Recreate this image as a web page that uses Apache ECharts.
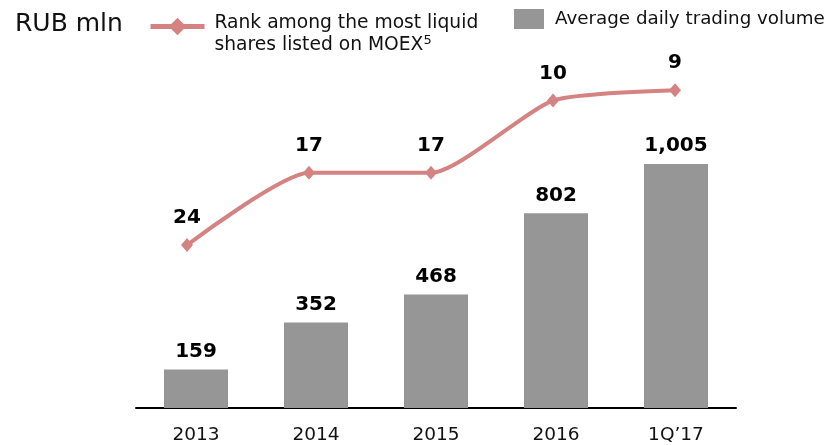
<!DOCTYPE html>
<html>
<head>
<meta charset="utf-8">
<script src="https://cdn.jsdelivr.net/npm/echarts@6/dist/echarts.min.js"></script>
<style>
  html, body { margin: 0; padding: 0; background: #fff; }
  #trading-chart { width: 831px; height: 445px; }
</style>
</head>
<body>
<div id="trading-chart"></div>
<script>
  // categories and values
  var periods = ['2013', '2014', '2015', '2016', '1Q\u201917'];
  var tradingVolume = [159, 352, 468, 802, 1005];
  var liquidityRank = [24, 17, 17, 10, 9];

  var font = 'DejaVu Sans, Verdana, sans-serif';
  var rankColor = '#d48282';

  var chart = echarts.init(document.getElementById('trading-chart'));
  var option = {
    animation: false,
    textStyle: { fontFamily: font },
    title: {
      text: 'RUB mln',
      left: 10,
      top: 7,
      textStyle: { fontSize: 25, fontWeight: 'normal', color: '#111', fontFamily: font }
    },
    legend: [
      {
        data: ['rank'],
        left: 143,
        top: -8,
        itemWidth: 54,
        itemHeight: 22,
        itemGap: 10,
        lineStyle: { width: 5 },
        formatter: function () {
          return 'Rank among the most liquid\nshares listed on MOEX{sup|5}';
        },
        textStyle: {
          fontSize: 18.7,
          color: '#111',
          fontFamily: font,
          lineHeight: 22,
          padding: [15, 0, 0, 5],
          rich: {
            sup: { fontSize: 13, verticalAlign: 'top', lineHeight: 22, padding: [0, 0, 8, 0] }
          }
        }
      },
      {
        data: ['volume'],
        left: 509,
        top: 4,
        itemWidth: 30,
        itemHeight: 20,
        icon: 'rect',
        formatter: function () { return 'Average daily trading volume'; },
        textStyle: { fontSize: 18.3, color: '#111', fontFamily: font, padding: [2, 0, 0, 6] }
      }
    ],
    grid: [
      { left: 136, right: 95, top: 141, bottom: 37 },
      { left: 187, right: 156, top: 49, bottom: 138 }
    ],
    xAxis: [
      {
        type: 'category',
        gridIndex: 0,
        data: periods,
        axisLine: { lineStyle: { color: '#000', width: 2 } },
        axisTick: { show: false },
        axisLabel: { fontSize: 18.5, color: '#111', margin: 18, fontFamily: font }
      },
      {
        type: 'category',
        gridIndex: 1,
        data: periods,
        boundaryGap: false,
        show: false
      }
    ],
    yAxis: [
      {
        type: 'value',
        gridIndex: 0,
        min: 0,
        max: 1100,
        show: false,
        splitLine: { show: false }
      },
      {
        type: 'value',
        gridIndex: 1,
        min: 5,
        max: 30,
        inverse: true,
        show: false,
        splitLine: { show: false }
      }
    ],
    series: [
      {
        name: 'volume',
        type: 'bar',
        xAxisIndex: 0,
        yAxisIndex: 0,
        data: tradingVolume,
        barWidth: 64,
        itemStyle: { color: '#969696' },
        label: {
          show: true,
          position: 'top',
          distance: 8,
          fontSize: 20,
          fontWeight: 'bold',
          color: '#000',
          fontFamily: font,
          formatter: function (p) { return p.value.toLocaleString('en-US'); }
        }
      },
      {
        name: 'rank',
        type: 'line',
        xAxisIndex: 1,
        yAxisIndex: 1,
        data: liquidityRank,
        smooth: 0.2,
        symbol: 'diamond',
        symbolSize: [12, 14],
        lineStyle: { color: rankColor, width: 4 },
        itemStyle: { color: rankColor },
        label: {
          show: true,
          position: 'top',
          distance: 10,
          fontSize: 20,
          fontWeight: 'bold',
          color: '#000',
          fontFamily: font
        }
      }
    ]
  };
  chart.setOption(option);
</script>
</body>
</html>
